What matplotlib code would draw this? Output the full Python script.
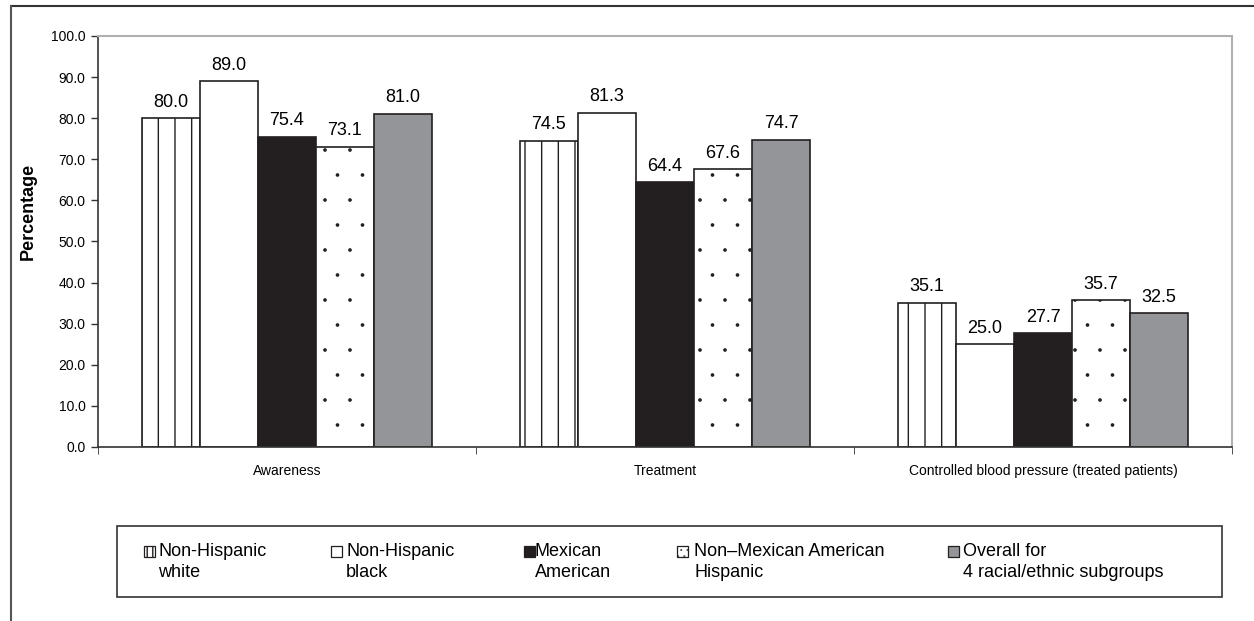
import matplotlib
matplotlib.use("Agg")
import matplotlib.pyplot as plt
import numpy as np
from matplotlib import hatch as mhatch
from matplotlib.patches import Rectangle
from matplotlib.lines import Line2D

categories = ["Awareness", "Treatment", "Controlled blood pressure (treated patients)"]
series_names = ["Non-Hispanic\nwhite", "Non-Hispanic\nblack", "Mexican\nAmerican",
                "Non\u2013Mexican American\nHispanic", "Overall for\n4 racial/ethnic subgroups"]
nh_white = [80.0, 74.5, 35.1]
nh_black = [89.0, 81.3, 25.0]
mexican = [75.4, 64.4, 27.7]
non_mex_hisp = [73.1, 67.6, 35.7]
overall = [81.0, 74.7, 32.5]
series = [nh_white, nh_black, mexican, non_mex_hisp, overall]
yticks = np.arange(0, 100.1, 10)

# sparser, smaller dots for the '.' hatch
def _dots_init(self, hatch, density):
    self.num_rows = hatch.count('.') * 4
    mhatch.Circles.__init__(self, hatch, density)
mhatch.SmallFilledCircles.__init__ = _dots_init
mhatch.SmallFilledCircles.size = 0.045

dark = "#231f20"
styles = [
    dict(facecolor="white", hatch="|"),
    dict(facecolor="white", hatch=None),
    dict(facecolor=dark, hatch=None),
    dict(facecolor="white", hatch="."),
    dict(facecolor="#939598", hatch=None),
]
legend_hatches = ["|||", None, None, "....", None]

plt.rcParams["font.family"] = ["Liberation Sans", "DejaVu Sans"]
plt.rcParams["hatch.linewidth"] = 1.0
plt.rcParams["hatch.color"] = dark

W, H = 1254, 621
fig = plt.figure(figsize=(W/100, H/100), dpi=100)
ax = fig.add_axes([98/W, 1-447/H, (1232-98)/W, (447-36)/H])

bw = 58/378
x = np.arange(len(categories))
for i, (vals, st) in enumerate(zip(series, styles)):
    pos = x + (i - 2) * bw
    ax.bar(pos, vals, width=bw, facecolor=st["facecolor"], hatch=st["hatch"],
           edgecolor=dark, linewidth=1.2, zorder=2)
    for p, v in zip(pos, vals):
        ax.annotate(f"{v:.1f}", (p, v), xytext=(0, 5.5), textcoords="offset points",
                    ha="center", va="bottom", fontsize=13, color="black")

ax.set_xlim(-0.5, 2.5)
ax.set_ylim(0, 100)
ax.set_yticks(yticks)
ax.set_yticklabels([f"{t:.1f}" for t in yticks], fontsize=10)
ax.set_xticks(x)
ax.set_xticklabels(categories, fontsize=10)
ax.tick_params(axis="x", length=0, pad=12)
ax.tick_params(axis="y", length=5, direction="out", width=1, color="#333333", pad=4)
ax.set_xticks([-0.5, 0.5, 1.5, 2.5], minor=True)
ax.tick_params(axis="x", which="minor", length=5, direction="out", color="#333333")
ax.set_ylabel("Percentage", fontsize=13, fontweight="bold")
ax.yaxis.set_label_coords(-0.054, 0.574)
for s in ["top", "right"]:
    ax.spines[s].set_color("#b0b0b0")
    ax.spines[s].set_linewidth(1.5)
for s in ["left", "bottom"]:
    ax.spines[s].set_color("#333333")
    ax.spines[s].set_linewidth(1.2)

# legend box drawn manually (entries at fixed column positions)
fig.add_artist(Rectangle((117/W, 1-597/H), (1222-117)/W, (597-526)/H,
                         transform=fig.transFigure, facecolor="none",
                         edgecolor="#333333", linewidth=1.2))
handle_x = [144, 331, 524, 677, 948]
text_x = [158, 346, 535, 694, 963]
for hx, tx, name, st, lh in zip(handle_x, text_x, series_names, styles, legend_hatches):
    fig.add_artist(Rectangle((hx/W, 1-557/H), 11/W, 11/H, transform=fig.transFigure,
                             facecolor=st["facecolor"], hatch=lh,
                             edgecolor=dark, linewidth=0.9))
    fig.text(tx/W, 1-543/H, name, ha="left", va="top", fontsize=13,
             linespacing=1.3)

# outer frame (top and left)
fig.add_artist(Line2D([11/W, 1.0], [1-6/H, 1-6/H], transform=fig.transFigure,
                      color="#333333", linewidth=1.5))
fig.add_artist(Line2D([11/W, 11/W], [0, 1-6/H], transform=fig.transFigure,
                      color="#555555", linewidth=1.5))

fig.savefig("out.png", dpi=100)
